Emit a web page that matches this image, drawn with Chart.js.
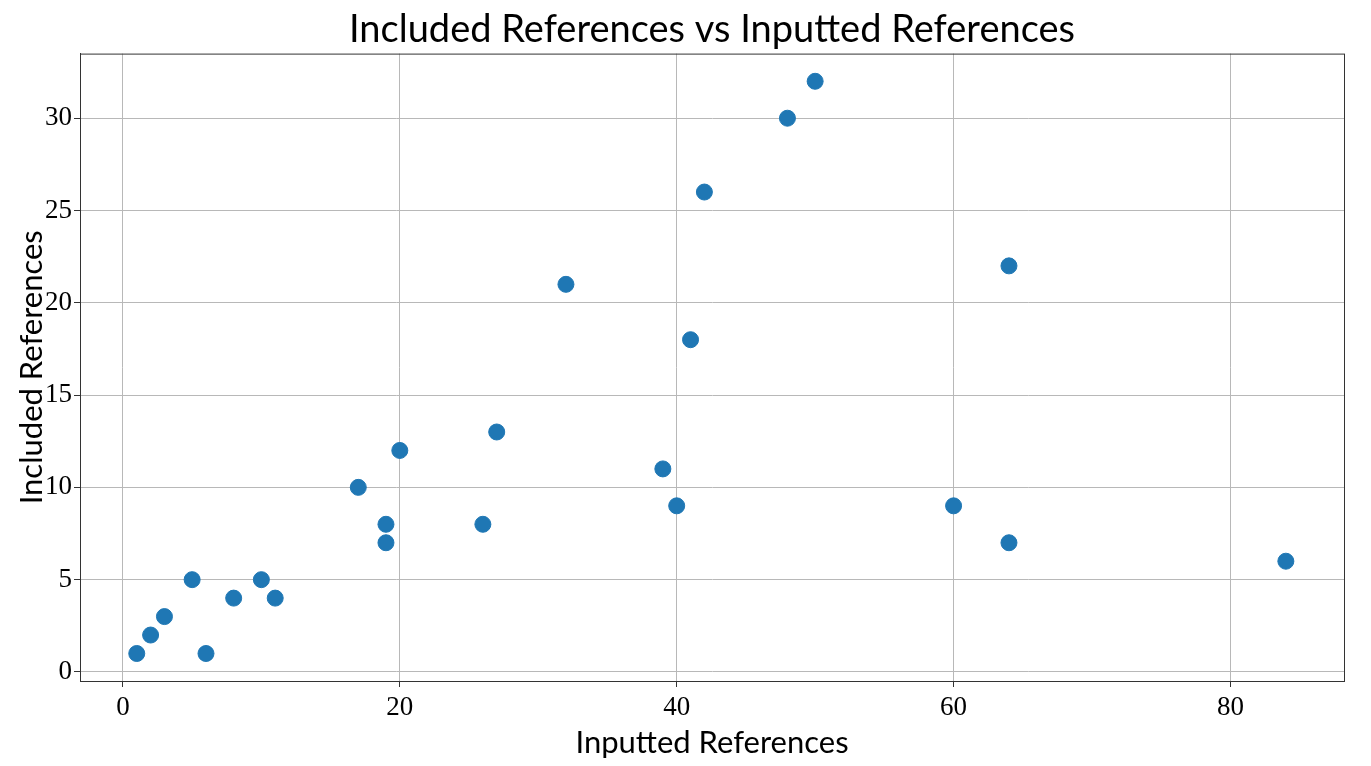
<!DOCTYPE html>
<html>
<head>
<meta charset="utf-8">
<script src="https://cdn.jsdelivr.net/npm/chart.js@4/dist/chart.umd.min.js"></script>
<style>
  html, body { margin: 0; padding: 0; background: #fff; }
</style>
</head>
<body>
<canvas id="myChart" width="1371" height="766"></canvas>
<script>
// inputted vs included reference counts
var inputted = [1, 2, 3, 5, 6, 8, 10, 11, 17, 19, 19, 20, 26, 27, 32, 39, 40, 41, 42, 48, 50, 60, 64, 64, 84];
var included = [1, 2, 3, 5, 1, 4, 5, 4, 10, 8, 7, 12, 8, 13, 21, 11, 9, 18, 26, 30, 32, 9, 22, 7, 6];
var xTicks = [0, 20, 40, 60, 80];
var yTicks = [0, 5, 10, 15, 20, 25, 30];

var points = inputted.map(function (x, i) {
    return { x: x, y: included[i] };
});

var tickFont = { family: "'Liberation Serif', 'DejaVu Serif', serif", size: 27 };
var labelFont = { family: "Lato, 'Open Sans', sans-serif", size: 31 };

// box around the whole plot area
var frame = {
    id: 'frame',
    afterDraw: function (chart) {
        var a = chart.chartArea;
        var ctx = chart.ctx;
        ctx.save();
        ctx.strokeStyle = '#333';
        ctx.lineWidth = 1;
        ctx.strokeRect(a.left + 0.5, a.top + 0.5, a.right - a.left, a.bottom - a.top);
        ctx.restore();
    }
};

var myChart = new Chart("myChart", {
    type: "scatter",
    data: {
        datasets: [{
            data: points,
            backgroundColor: '#1f77b4',
            borderColor: '#1f77b4',
            pointRadius: 8,
            pointHoverRadius: 8
        }]
    },
    options: {
        responsive: false,
        animation: false,
        layout: { padding: { right: 27, top: 0 } },
        plugins: {
            legend: { display: false },
            tooltip: { enabled: false },
            title: {
                display: true,
                fullSize: false,
                text: "Included References vs Inputted References",
                color: '#000',
                font: { family: "Lato, 'Open Sans', sans-serif", size: 38, weight: 'normal' },
                padding: { top: 7, bottom: 1 }
            }
        },
        scales: {
            x: {
                type: 'linear',
                min: -3.1,
                max: 88.2,
                afterBuildTicks: function (axis) {
                    axis.ticks = xTicks.map(function (v) { return { value: v }; });
                },
                afterFit: function (axis) { axis.height = 85; },
                grid: { color: '#b8b8b8', tickColor: '#333', tickLength: 6 },
                border: { color: '#333' },
                ticks: { color: '#000', font: tickFont, padding: 5, maxRotation: 0 },
                title: { display: true, text: 'Inputted References', color: '#000', font: labelFont, padding: { top: 7 } }
            },
            y: {
                type: 'linear',
                min: -0.49,
                max: 33.5,
                afterBuildTicks: function (axis) {
                    axis.ticks = yTicks.map(function (v) { return { value: v }; });
                },
                afterFit: function (axis) { axis.width = 80; },
                grid: { color: '#b8b8b8', tickColor: '#333', tickLength: 6 },
                border: { color: '#333' },
                ticks: { color: '#000', font: tickFont, padding: 2 },
                title: { display: true, text: 'Included References', color: '#000', font: labelFont, padding: { top: 13, bottom: 0 } }
            }
        }
    },
    plugins: [frame]
});
</script>
</body>
</html>
